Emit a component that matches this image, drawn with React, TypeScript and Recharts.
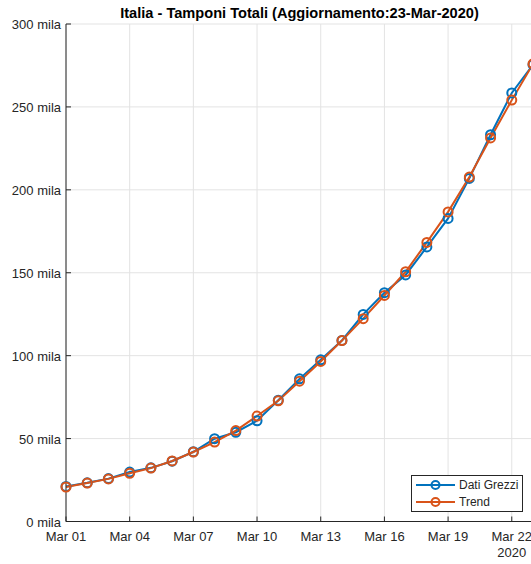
import { LineChart, Line, XAxis, YAxis, CartesianGrid, Legend } from "recharts"

const dates = [
  "Mar 01", "Mar 02", "Mar 03", "Mar 04", "Mar 05", "Mar 06", "Mar 07", "Mar 08",
  "Mar 09", "Mar 10", "Mar 11", "Mar 12", "Mar 13", "Mar 14", "Mar 15", "Mar 16",
  "Mar 17", "Mar 18", "Mar 19", "Mar 20", "Mar 21", "Mar 22", "Mar 23",
]
const datiGrezzi = [
  21127, 23345, 25856, 29837, 32362, 36359, 42062, 49937, 53826, 60761, 73154, 86011,
  97488, 109170, 124899, 137962, 148657, 165541, 182777, 206886, 233222, 258402, 275468,
]
const trend = [
  20800, 23200, 25700, 29100, 32200, 36500, 41900, 47900, 54800, 63600, 72800, 84600,
  96500, 109100, 122300, 136300, 150600, 168300, 186700, 207700, 231300, 254100, 275900,
]
const dayTicks = [1, 4, 7, 10, 13, 16, 19, 22]
const yTicks = [0, 50000, 100000, 150000, 200000, 250000, 300000]
const year = "2020"
const title = "Italia - Tamponi Totali (Aggiornamento:23-Mar-2020)"

const BLUE = "#0072BD"
const ORANGE = "#D95319"
const AXIS = "#262626"
const FONT = "'Liberation Sans', Arial, sans-serif"

const data = dates.map((d, i) => ({
  day: i + 1,
  label: d,
  grezzi: datiGrezzi[i],
  trend: trend[i],
}))

const fmtY = (v: number) => `${v / 1000} mila`

function BottomTick({ x, y, payload }: any) {
  return (
    <g>
      <line x1={x} x2={x} y1={y} y2={y - 5} stroke={AXIS} />
      <text x={x} y={y + 19} textAnchor="middle" fontSize={13} fill={AXIS} fontFamily={FONT}>
        {dates[payload.value - 1]}
      </text>
      {payload.value === 22 && (
        <text x={x} y={y + 35} textAnchor="middle" fontSize={13} fill={AXIS} fontFamily={FONT}>
          {year}
        </text>
      )}
    </g>
  )
}

function TopTick({ x, y }: any) {
  return <line x1={x} x2={x} y1={y} y2={y + 5} stroke={AXIS} />
}

function LeftTick({ x, y, payload }: any) {
  return (
    <g>
      <line x1={x} x2={x + 5} y1={y} y2={y} stroke={AXIS} />
      <text x={x - 5} y={y + 5} textAnchor="end" fontSize={13} fill={AXIS} fontFamily={FONT}>
        {fmtY(payload.value)}
      </text>
    </g>
  )
}

function RightTick({ x, y }: any) {
  return <line x1={x} x2={x - 5} y1={y} y2={y} stroke={AXIS} />
}

function LegendBox() {
  const items = [
    { name: "Dati Grezzi", color: BLUE },
    { name: "Trend", color: ORANGE },
  ]
  return (
    <div
      style={{
        border: `1px solid ${AXIS}`,
        background: "#fff",
        padding: "1px 4px 1px 4px",
        fontFamily: FONT,
        fontSize: 12,
        color: AXIS,
        lineHeight: "16.5px",
        whiteSpace: "nowrap",
      }}
    >
      {items.map((it) => (
        <div key={it.name} style={{ display: "flex", alignItems: "center", height: 16.5 }}>
          <svg width={40} height={16} style={{ marginRight: 3, flexShrink: 0 }}>
            <line x1={0} x2={39} y1={8} y2={8} stroke={it.color} strokeWidth={2} />
            <circle cx={19.5} cy={8} r={4} fill="none" stroke={it.color} strokeWidth={2} />
          </svg>
          <span>{it.name}</span>
        </div>
      ))}
    </div>
  )
}

export default function App() {
  return (
    <div
      style={{
        position: "fixed",
        left: 0,
        top: 0,
        width: 531,
        height: 564,
        overflow: "hidden",
        background: "#fff",
        fontFamily: FONT,
      }}
    >
      <style>{"html,body{margin:0;padding:0;overflow:hidden}"}</style>
      <div
        style={{
          position: "absolute",
          top: 4.5,
          left: 66,
          width: 467,
          textAlign: "center",
          fontWeight: "bold",
          fontSize: 14.6,
          color: "#000",
          zIndex: 1,
        }}
      >
        {title}
      </div>
      <LineChart
        width={545}
        height={564}
        data={data}
        margin={{ top: 24, right: 12, left: 0, bottom: 0 }}
      >
        <CartesianGrid stroke="#e3e3e3" strokeWidth={1} />
        <XAxis
          dataKey="day"
          type="number"
          domain={[1, 23]}
          ticks={dayTicks}
          height={42.5}
          tickSize={0}
          tickMargin={0}
          tickLine={false}
          stroke={AXIS}
          tick={<BottomTick />}
          interval={0}
        />
        <XAxis
          xAxisId="top"
          dataKey="day"
          type="number"
          domain={[1, 23]}
          ticks={dayTicks}
          orientation="top"
          height={0}
          tickSize={0}
          tickMargin={0}
          tickLine={false}
          stroke={AXIS}
          tick={<TopTick />}
          interval={0}
        />
        <YAxis
          type="number"
          domain={[0, 300000]}
          ticks={yTicks}
          width={66}
          tickSize={0}
          tickMargin={0}
          tickLine={false}
          stroke={AXIS}
          tick={<LeftTick />}
          interval={0}
        />
        <YAxis
          yAxisId="right"
          orientation="right"
          type="number"
          domain={[0, 300000]}
          ticks={yTicks}
          width={0}
          tickSize={0}
          tickMargin={0}
          tickLine={false}
          stroke={AXIS}
          tick={<RightTick />}
          interval={0}
        />
        <Legend
          layout="vertical"
          align="center"
          verticalAlign="middle"
          content={<LegendBox />}
          wrapperStyle={{ left: 411, top: 475, width: "auto" }}
        />
        <Line
          dataKey="grezzi"
          name="Dati Grezzi"
          stroke={BLUE}
          strokeWidth={2}
          dot={{ r: 4.5, fill: "none", stroke: BLUE, strokeWidth: 2 }}
          isAnimationActive={false}
        />
        <Line
          dataKey="trend"
          name="Trend"
          stroke={ORANGE}
          strokeWidth={2}
          dot={{ r: 4.5, fill: "none", stroke: ORANGE, strokeWidth: 2 }}
          isAnimationActive={false}
        />
      </LineChart>
    </div>
  )
}
